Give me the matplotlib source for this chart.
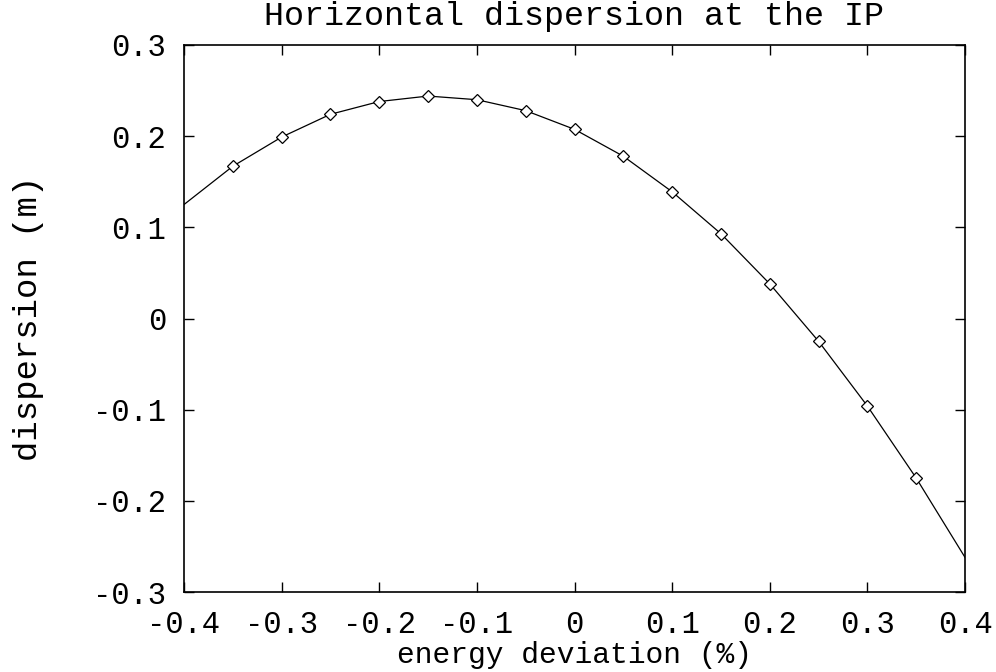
import matplotlib
matplotlib.use("Agg")
import matplotlib.pyplot as plt

# data
marker_x = [-0.35, -0.30, -0.25, -0.20, -0.15, -0.10, -0.05, 0.00,
            0.05, 0.10, 0.15, 0.20, 0.25, 0.30, 0.35]
marker_y = [0.167, 0.199, 0.224, 0.238, 0.244, 0.240, 0.228, 0.2075,
            0.178, 0.139, 0.093, 0.038, -0.025, -0.096, -0.175]
curve_x = [-0.40] + marker_x + [0.40]
curve_y = [0.125] + marker_y + [-0.262]

x_ticks = [-0.4, -0.3, -0.2, -0.1, 0, 0.1, 0.2, 0.3, 0.4]
x_tick_labels = ["-0.4", "-0.3", "-0.2", "-0.1", "0", "0.1", "0.2", "0.3", "0.4"]
y_ticks = [-0.3, -0.2, -0.1, 0, 0.1, 0.2, 0.3]
y_tick_labels = ["-0.3", "-0.2", "-0.1", "0", "0.1", "0.2", "0.3"]

plt.rcParams['font.family'] = ['Liberation Mono', 'DejaVu Sans Mono']

W, H = 996, 672
fig = plt.figure(figsize=(W / 100, H / 100), dpi=100)
left, right, top, bottom = 184, 965, 45, 592
ax = fig.add_axes([left / W, 1 - bottom / H, (right - left) / W, (bottom - top) / H])

ax.plot(curve_x, curve_y, color='black', linewidth=0.9)
ax.plot(marker_x, marker_y, linestyle='none', marker='D', markersize=6,
        markerfacecolor='white', markeredgecolor='black', markeredgewidth=0.9)

ax.set_xlim(-0.4, 0.4)
ax.set_ylim(-0.3, 0.3)
ax.set_xticks(x_ticks)
ax.set_xticklabels(x_tick_labels)
ax.set_yticks(y_ticks)
ax.set_yticklabels(y_tick_labels)
ax.tick_params(direction='in', length=7, width=1, top=True, right=True,
               labelsize=22)
ax.tick_params(axis='x', pad=13)
ax.tick_params(axis='y', pad=13)
for s in ax.spines.values():
    s.set_linewidth(1.2)

fig.text((left + right) / 2 / W, 1 - 17 / H, "Horizontal dispersion at the IP",
         fontsize=24, ha='center', va='center')
ax.set_xlabel("energy deviation (%)", fontsize=21.3)
ax.xaxis.set_label_coords(0.5, -(655 - bottom) / (bottom - top))
ax.xaxis.label.set_verticalalignment('center')
ax.set_ylabel("dispersion (m)", fontsize=24.5)
ax.yaxis.set_label_coords(-(left - 28) / (right - left), 0.5)
ax.yaxis.label.set_verticalalignment('center')

fig.savefig("out.png", dpi=100)
